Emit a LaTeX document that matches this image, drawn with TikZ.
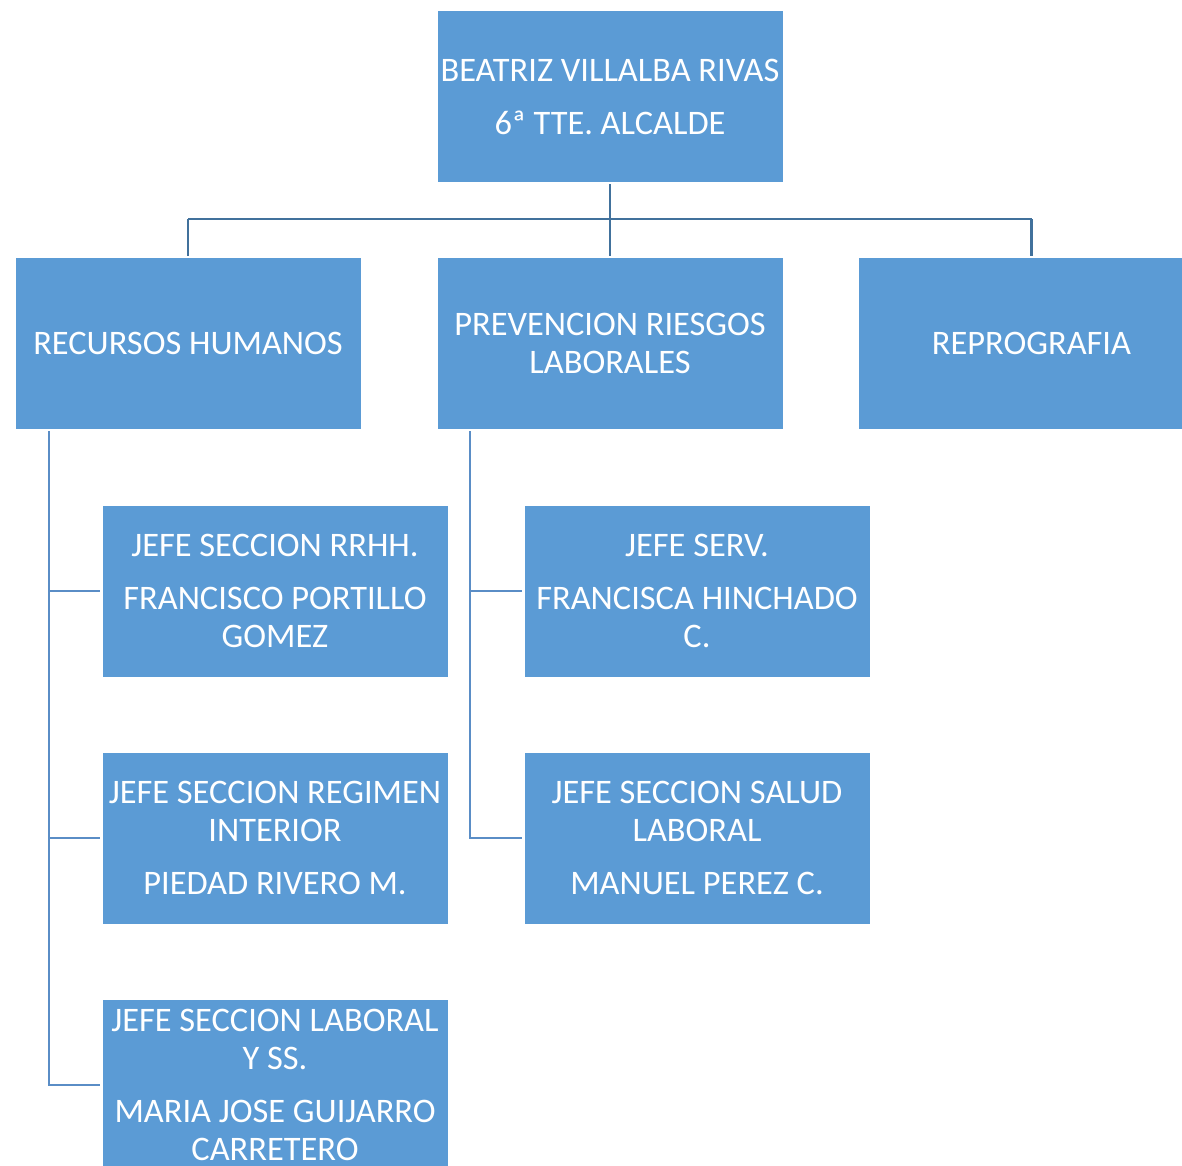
\documentclass[tikz,border=0pt]{standalone}
\usepackage{fontspec}
\setmainfont{Carlito}
\definecolor{boxblue}{HTML}{5B9BD5}
\definecolor{linetop}{HTML}{41719C}
\definecolor{lineside}{HTML}{5A8DC6}
\begin{document}
\begin{tikzpicture}[x=0.75pt,y=-0.75pt,
  box/.style={fill=boxblue,draw=none,text=white,align=center,inner sep=0pt,
    minimum width=345*0.75pt,minimum height=171*0.75pt,
    font=\fontsize{25.8}{28.5}\selectfont},
  conn/.style={linetop,line width=2pt},
  sconn/.style={lineside,line width=2.2pt}]
\useasboundingbox (0,0) rectangle (1182,1165);
\clip (0,0) rectangle (1182,1165);
\node[box] (top) at (610,96.5) {BEATRIZ VILLALBA RIVAS\\[11.25pt]6ª TTE. ALCALDE};
\node[box] (rh) at (188,343.5) {RECURSOS HUMANOS};
\node[box] (prl) at (610,343.5) {PREVENCION RIESGOS\\LABORALES};
\node[box] (rep) at (1031.5,343.5) {REPROGRAFIA};
\node[box] (c1) at (275,591) {JEFE SECCION RRHH.\\[11.25pt]FRANCISCO PORTILLO\\GOMEZ};
\node[box] (c2) at (275,838) {JEFE SECCION REGIMEN\\INTERIOR\\[11.25pt]PIEDAD RIVERO M.};
\node[box] (c3) at (275,1085) {JEFE SECCION LABORAL\\Y SS.\\[11.25pt]MARIA JOSE GUIJARRO\\CARRETERO};
\node[box] (p1) at (697,591) {JEFE SERV.\\[11.25pt]FRANCISCA HINCHADO\\C.};
\node[box] (p2) at (697,838) {JEFE SECCION SALUD\\LABORAL\\[11.25pt]MANUEL PEREZ C.};
% top connectors
\coordinate (j) at (610,219);
\draw[conn] ([yshift=-2*0.75pt]top.south) -- (j);
\draw[conn] (rh.north |- j) -- (rep.north |- j);
\draw[conn] (rh.north |- j) -- ([yshift=2*0.75pt]rh.north);
\draw[conn] (j) -- ([yshift=2*0.75pt]prl.north);
\draw[conn] (rep.north |- j) -- ([yshift=2*0.75pt]rep.north);
% left column
\coordinate (ls) at (49,431);
\draw[sconn] (ls) -- (ls |- c3.west) -- ([xshift=-2*0.75pt]c3.west);
\draw[sconn] (ls |- c1.west) -- ([xshift=-2*0.75pt]c1.west);
\draw[sconn] (ls |- c2.west) -- ([xshift=-2*0.75pt]c2.west);
% middle column
\coordinate (ms) at (470,431);
\draw[sconn] (ms) -- (ms |- p2.west) -- ([xshift=-2*0.75pt]p2.west);
\draw[sconn] (ms |- p1.west) -- ([xshift=-2*0.75pt]p1.west);
\end{tikzpicture}
\end{document}
